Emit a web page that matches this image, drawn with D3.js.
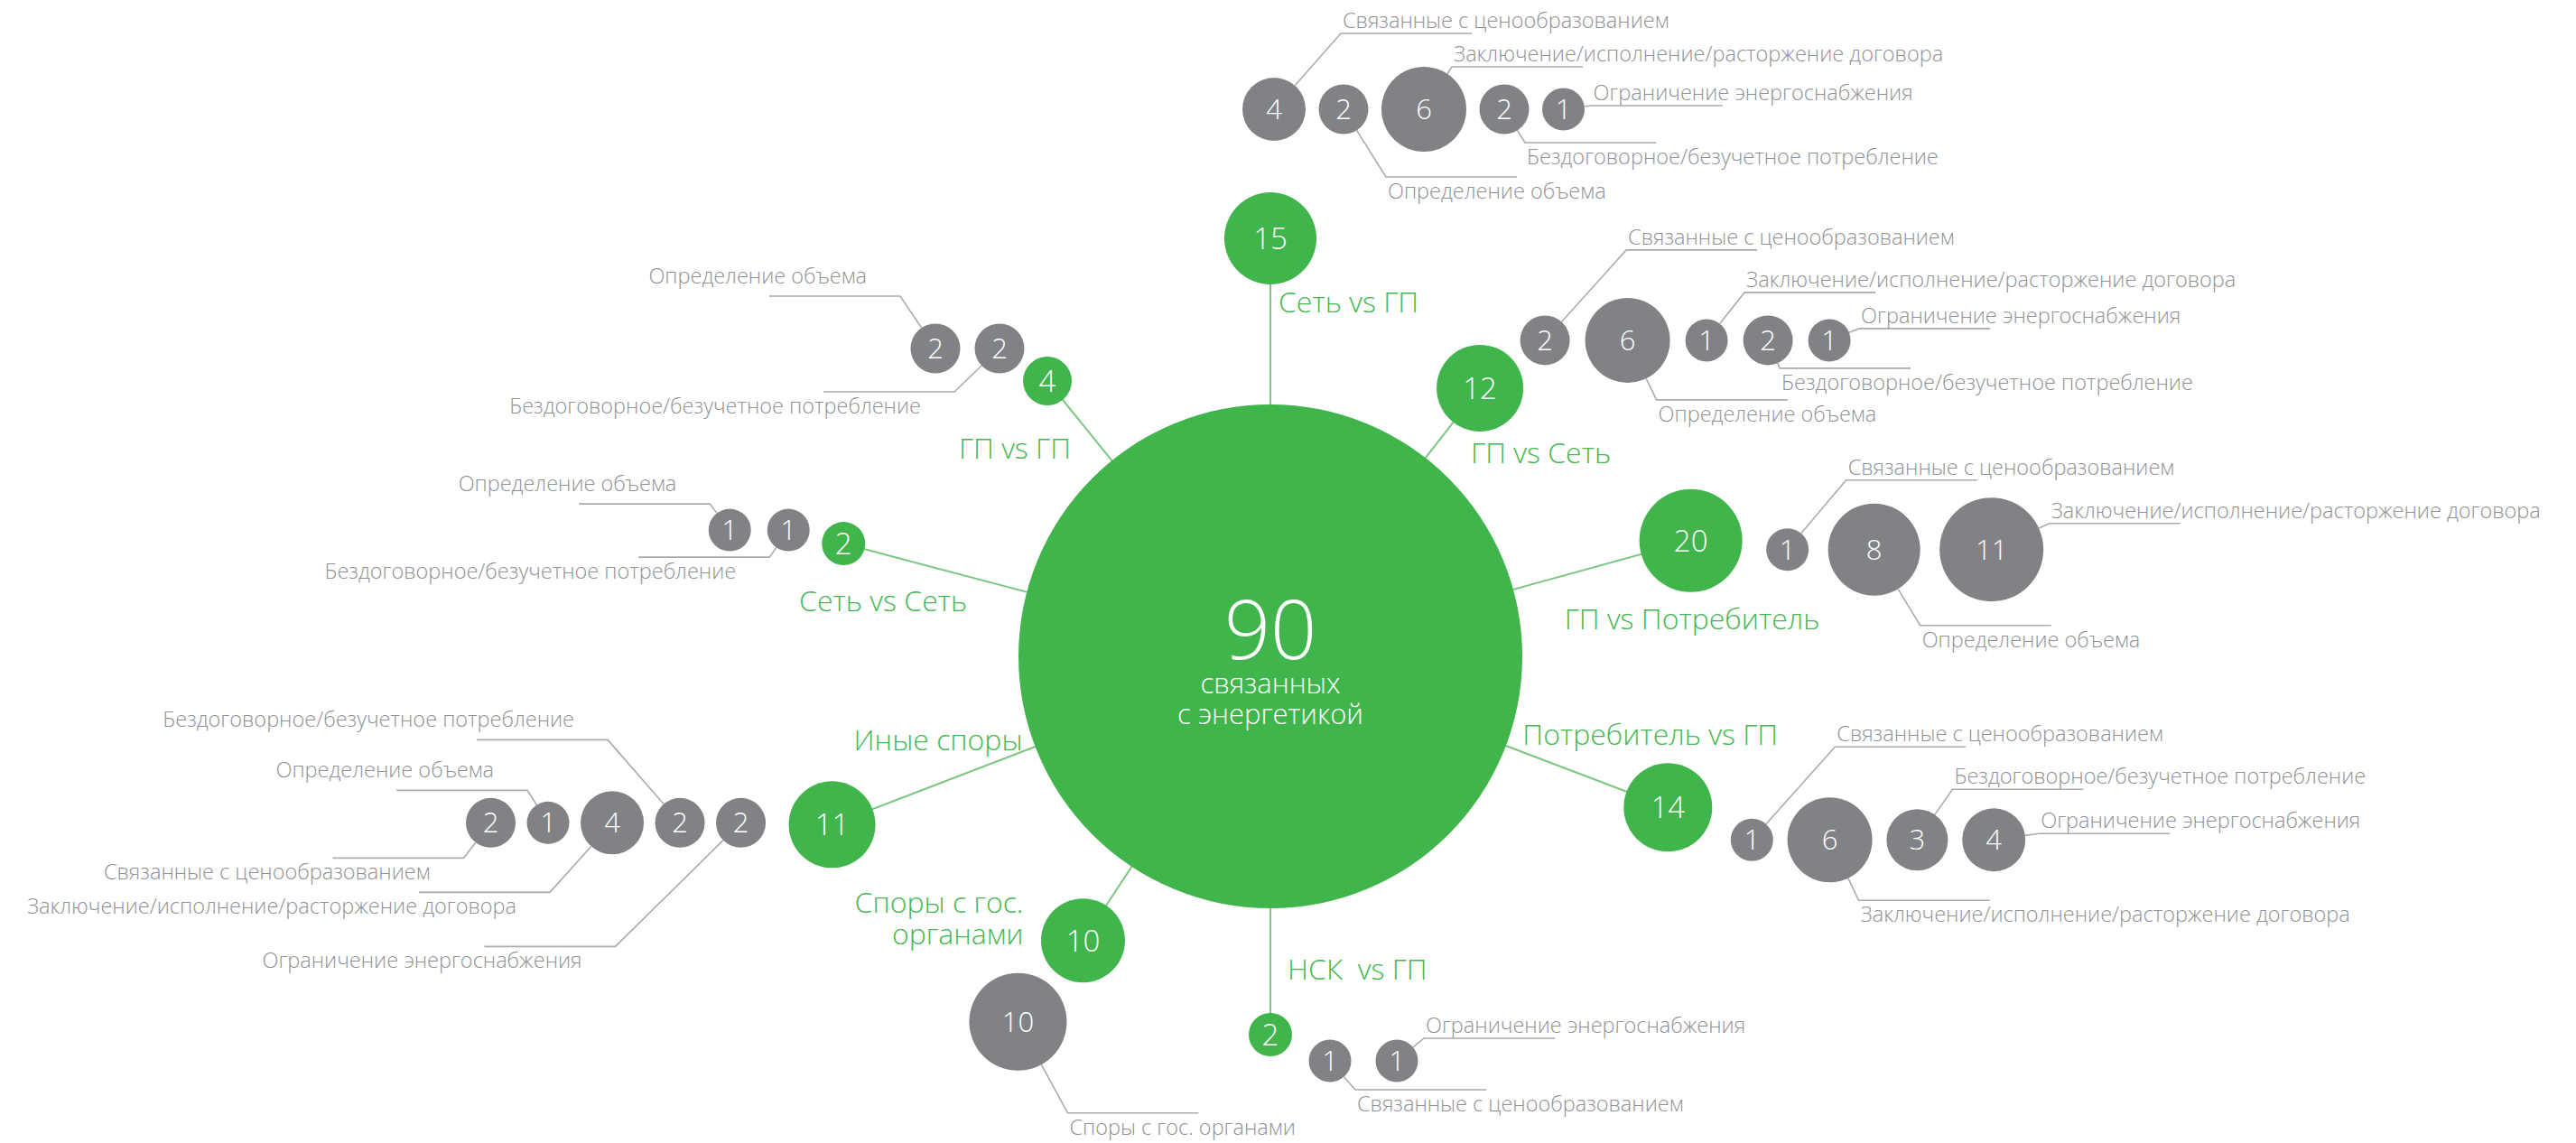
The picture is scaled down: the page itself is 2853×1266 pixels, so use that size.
<!DOCTYPE html>
<html><head><meta charset="utf-8">
<script src="https://cdn.jsdelivr.net/npm/d3@7"></script>
<style>
html,body{margin:0;padding:0;background:#fff;}
svg text{font-family:"Open Sans","Noto Sans",sans-serif;font-weight:300;}
</style></head><body>
<svg id="chart" width="2853" height="1266"></svg>
<script>
// ---------------- DATA ----------------
const totalValue = 90;
const totalLabel = ["связанных", "с энергетикой"];

const categories = ["Сеть vs ГП", "ГП vs Сеть", "ГП vs Потребитель", "Потребитель vs ГП",
  "НСК  vs ГП", "Споры с гос. органами", "Иные споры", "Сеть vs Сеть", "ГП vs ГП"];
const categoryValues = [15, 12, 20, 14, 2, 10, 11, 2, 4];

const PRICE = "Связанные с ценообразованием";
const CONTRACT = "Заключение/исполнение/расторжение договора";
const LIMIT = "Ограничение энергоснабжения";
const NOCONTRACT = "Бездоговорное/безучетное потребление";
const VOLUME = "Определение объема";
const STATE = "Споры с гос. органами";

// sub-disputes of each category, ordered from the category bubble outward
const subcategoryNames = [
  [PRICE, VOLUME, CONTRACT, NOCONTRACT, LIMIT],
  [PRICE, VOLUME, CONTRACT, NOCONTRACT, LIMIT],
  [PRICE, VOLUME, CONTRACT],
  [PRICE, CONTRACT, NOCONTRACT, LIMIT],
  [PRICE, LIMIT],
  [STATE],
  [LIMIT, NOCONTRACT, CONTRACT, VOLUME, PRICE],
  [NOCONTRACT, VOLUME],
  [NOCONTRACT, VOLUME]
];
const subcategoryValues = [
  [4, 2, 6, 2, 1],
  [2, 6, 1, 2, 1],
  [1, 8, 11],
  [1, 6, 3, 4],
  [1, 1],
  [10],
  [2, 2, 4, 1, 2],
  [1, 1],
  [2, 2]
];

// ---------------- LAYOUT (hand-made infographic placement) ----------------
const W = 2853, H = 1266;
const center = {x: 1407, y: 727};
const layout = [
  {angle: 0,     dist: 463, row: [4, -143],  dir: 1,  gap: 14.5, label: [9, 82, "start"], words: 0,
   elbows: [[74,-84],[47,75],[31,-47],[23,37],[31,-4]]},
  {angle: 38,    dist: 377, row: [72, -53],  dir: 1,  gap: 17,   label: [-10, 83, "start"], words: 0,
   elbows: [[90,-100],[32,66],[42,-53],[13,31],[33,-13]]},
  {angle: 74.6,  dist: 483, row: [107, 10],  dir: 1,  gap: 21.5, label: [-140, 98, "start"], words: 0,
   elbows: [[65,-77],[51,84],[64,-29]]},
  {angle: 110.8, dist: 471, row: [93, 36],   dir: 1,  gap: 15.8, label: [-161, -69, "start"], words: 0,
   elbows: [[92,-103],[32,67],[39,-56],[50,-7]]},
  {angle: 180,   dist: 419, row: [66, 29],   dir: 1,  gap: 27,   label: [19, -61, "start"], words: 0,
   elbows: [[28,32],[30,-25]]},
  {angle: 213.4, dist: 377, row: [-72, 90],  dir: 1,  gap: 0,    label: [-66, -31, "end"], words: 3,
   elbows: [[55,101]]},
  {angle: 249,   dist: 520, row: [-101, -2], dir: -1, gap: 12.5, label: [211, -82, "end"], words: 0,
   elbows: [[-139,137],[-80,-92],[-69,77],[-23,-36],[-30,39]]},
  {angle: 284.8, dist: 489, row: [-61, -15], dir: -1, gap: 18,   label: [137, 75, "end"], words: 0,
   elbows: [[-21,30],[-22,-29]]},
  {angle: 321,   dist: 392.5, row: [-53, -36], dir: -1, gap: 16, label: [26, 86, "end"], words: 0,
   elbows: [[-50,48],[-39,-58]]}
];
const leaderLength = 145;

// ---------------- STYLE ----------------
const GREEN = "#3fb54b", GRAY = "#808285", CONNECTOR = "#7bc680",
      LEADER = "#a9abae", LABEL_GRAY = "#8f9194", LABEL_GREEN = "#45b751";

// ---------------- SCALES ----------------
const greenR = d3.scaleLinear()
  .domain([2, 4, 10, 11, 12, 14, 15, 20, 90])
  .range([24, 27, 46.5, 48, 48, 49, 51, 57, 279]);
const grayR = d3.scaleLinear()
  .domain([1, 2, 3, 4, 6, 8, 10, 11])
  .range([23.5, 27.5, 34, 35, 47, 51, 54, 57.5]);

const svg = d3.select("#chart");

// category nodes
const nodes = categories.map((name, i) => {
  const L = layout[i];
  const [px, py] = d3.pointRadial(L.angle * Math.PI / 180, L.dist);
  const g = {name, value: categoryValues[i], x: center.x + px, y: center.y + py, r: greenR(categoryValues[i]), L};
  let x = g.x + L.row[0];
  const y = g.y + L.row[1];
  g.subs = subcategoryValues[i].map((v, j) => ({v, name: subcategoryNames[i][j], r: grayR(v)}));
  g.subs.forEach((s, j) => {
    if (j > 0) x += L.dir * (g.subs[j - 1].r + L.gap + s.r);
    s.x = x; s.y = y;
    const [ex, ey] = L.elbows[j];
    s.ex = s.x + ex; s.ey = s.y + ey;
    const a = Math.atan2(ey, ex);
    s.sx = s.x + s.r * Math.cos(a); s.sy = s.y + s.r * Math.sin(a);
    s.hx = s.ex + L.dir * leaderLength;
    s.dir = L.dir;
    s.above = ey < 0;
  });
  return g;
});

// connectors
svg.append("g").selectAll("line").data(nodes).join("line")
  .attr("x1", center.x).attr("y1", center.y)
  .attr("x2", d => d.x).attr("y2", d => d.y)
  .attr("stroke", CONNECTOR).attr("stroke-width", 2);

// central bubble
svg.append("circle").attr("cx", center.x).attr("cy", center.y).attr("r", greenR(totalValue)).attr("fill", GREEN);
const ct = svg.append("text").attr("text-anchor", "middle").attr("fill", "#fff");
ct.append("tspan").attr("x", center.x).attr("y", center.y + 3).attr("font-size", 90).text(totalValue);
totalLabel.forEach((t, i) => {
  ct.append("tspan").attr("x", center.x).attr("y", center.y + 41 + i * 34).attr("font-size", 31).text(t);
});

const allSubs = nodes.flatMap(n => n.subs);

// leader lines
svg.append("g").selectAll("polyline").data(allSubs).join("polyline")
  .attr("points", d => [[d.sx, d.sy], [d.ex, d.ey], [d.hx, d.ey]].map(p => p.join(",")).join(" "))
  .attr("fill", "none").attr("stroke", LEADER).attr("stroke-width", 1.6);

// leader labels
svg.append("g").selectAll("text").data(allSubs).join("text")
  .attr("x", d => d.dir > 0 ? d.ex + 2 : d.ex - 37)
  .attr("y", d => d.above ? d.ey - (d.dir > 0 ? 6 : 14) : d.ey + 24)
  .attr("text-anchor", d => d.dir > 0 ? "start" : "end")
  .attr("fill", LABEL_GRAY).attr("font-size", 23.5).text(d => d.name);

// gray bubbles
const gs = svg.append("g").selectAll("g").data(allSubs).join("g");
gs.append("circle").attr("cx", d => d.x).attr("cy", d => d.y).attr("r", d => d.r).attr("fill", GRAY);
gs.append("text").attr("x", d => d.x).attr("y", d => d.y + 11)
  .attr("text-anchor", "middle").attr("fill", "#fff").attr("font-size", 31).text(d => d.v);

// green category bubbles
const gn = svg.append("g").selectAll("g").data(nodes).join("g");
gn.append("circle").attr("cx", d => d.x).attr("cy", d => d.y).attr("r", d => d.r).attr("fill", GREEN);
gn.append("text").attr("x", d => d.x).attr("y", d => d.y + 12)
  .attr("text-anchor", "middle").attr("fill", "#fff").attr("font-size", 33).text(d => d.value);

// category labels (multi-line ones as one text with tspans)
gn.each(function(d) {
  const L = d.L;
  const words = d.name.split(" ");
  const lines = L.words ? [words.slice(0, L.words).join(" "), words.slice(L.words).join(" ")] : [d.name];
  const t = d3.select(this).append("text")
    .attr("text-anchor", L.label[2]).attr("fill", LABEL_GREEN).attr("font-size", 32)
    .style("white-space", "pre");
  lines.forEach((line, i) => {
    t.append("tspan").attr("x", d.x + L.label[0]).attr("y", d.y + L.label[1] + i * 35).text(line);
  });
});
</script>
</body></html>
